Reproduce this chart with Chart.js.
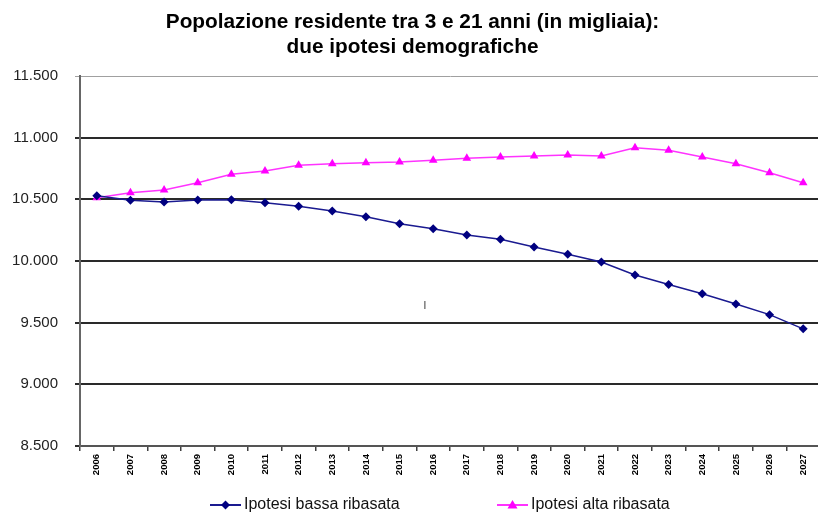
<!DOCTYPE html>
<html>
<head>
<meta charset="utf-8">
<script src="https://cdn.jsdelivr.net/npm/chart.js@4.4.0/dist/chart.umd.min.js"></script>
<style>
html,body{margin:0;padding:0;background:#fff;overflow:hidden;}
#wrap{width:818px;height:514px;overflow:hidden;position:relative;}
#c{display:block;}
</style>
</head>
<body>
<div id="wrap"><canvas id="c" width="825" height="514" style="width:825px;height:514px"></canvas></div>
<script>
const titleLines = ['Popolazione residente tra 3 e 21 anni (in migliaia):', 'due ipotesi demografiche'];
const years = ['2006','2007','2008','2009','2010','2011','2012','2013','2014','2015','2016','2017','2018','2019','2020','2021','2022','2023','2024','2025','2026','2027'];
const seriesNames = ['Ipotesi bassa ribasata', 'Ipotesi alta ribasata'];
const bassa = [10530, 10492, 10478, 10494, 10497, 10473, 10443, 10405, 10359, 10302, 10261, 10211, 10176, 10114, 10054, 9992, 9887, 9810, 9734, 9652, 9565, 9450];
const alta  = [10513, 10554, 10575, 10635, 10703, 10730, 10776, 10789, 10797, 10803, 10817, 10833, 10843, 10851, 10859, 10851, 10919, 10898, 10843, 10789, 10716, 10635];
const yMin = 8500, yMax = 11500, yStep = 500;

function fmt(v){ return String(v).replace(/\B(?=(\d{3})+(?!\d))/g, '.'); }

const legendPlugin = {
  id: 'customLegend',
  afterDraw(chart){
    const ctx = chart.ctx;
    const items = [
      {x: 210, ds: chart.data.datasets[0], shape: 'diamond'},
      {x: 497, ds: chart.data.datasets[1], shape: 'triangle'}
    ];
    const y = 505;
    ctx.save();
    items.forEach(it => {
      ctx.strokeStyle = it.ds.borderColor;
      ctx.lineWidth = 2;
      ctx.beginPath(); ctx.moveTo(it.x, y); ctx.lineTo(it.x + 31, y); ctx.stroke();
      ctx.fillStyle = it.ds.pointBackgroundColor;
      const cx = it.x + 15.5;
      ctx.beginPath();
      if (it.shape === 'diamond') {
        ctx.moveTo(cx, y - 4.5); ctx.lineTo(cx + 4.5, y); ctx.lineTo(cx, y + 4.5); ctx.lineTo(cx - 4.5, y);
      } else {
        ctx.moveTo(cx, y - 5); ctx.lineTo(cx + 5, y + 3.5); ctx.lineTo(cx - 5, y + 3.5);
      }
      ctx.closePath(); ctx.fill();
      ctx.fillStyle = '#111';
      ctx.font = '16px "Liberation Sans", Arial, sans-serif';
      ctx.textBaseline = 'middle';
      ctx.textAlign = 'left';
      ctx.fillText(it.ds.label, it.x + 34, y);
    });
    // stray mark present in the original picture
    ctx.fillStyle = '#333';
    ctx.font = '10px "Liberation Sans", Arial, sans-serif';
    ctx.textAlign = 'center';
    ctx.fillText('I', 425, 306);
    ctx.restore();
  }
};

new Chart(document.getElementById('c'), {
  type: 'line',
  data: {
    labels: years,
    datasets: [
      {label: seriesNames[0], data: bassa, borderColor: '#1a1a90', backgroundColor: '#000080', pointBackgroundColor: '#000080', pointBorderColor: '#000080', pointStyle: 'rectRot', pointRadius: 4.5, pointBorderWidth: 0, borderWidth: 1.5, tension: 0},
      {label: seriesNames[1], data: alta, borderColor: '#ff33ff', backgroundColor: '#ff00ff', pointBackgroundColor: '#ff00ff', pointBorderColor: '#ff00ff', pointStyle: 'triangle', pointRadius: 5, pointBorderWidth: 0, borderWidth: 1.5, tension: 0}
    ]
  },
  options: {
    responsive: false,
    animation: false,
    layout: {padding: {left: 0, right: 0, top: 0, bottom: 0}},
    plugins: {
      legend: {display: false},
      tooltip: {enabled: false},
      title: {
        display: true,
        text: titleLines,
        color: '#000',
        font: {family: '"Liberation Sans", Arial, sans-serif', size: 20.8, weight: 'bold', lineHeight: 25/20.8},
        padding: {top: 9.5, bottom: 16.5}
      }
    },
    scales: {
      x: {
        offset: true,
        grid: {offset: true, drawOnChartArea: false, drawTicks: true, tickLength: 5, color: '#404040', lineWidth: 1.5},
        border: {display: true, color: '#555', width: 2},
        ticks: {autoSkip: false, maxRotation: 90, minRotation: 90, padding: 3, color: '#000', font: {family: '"Liberation Sans", Arial, sans-serif', size: 9.5, weight: 'bold'}},
        afterFit(s){ s.height = 68; }
      },
      y: {
        min: yMin, max: yMax,
        ticks: {stepSize: yStep, padding: 17, color: '#222', font: {family: '"Liberation Sans", Arial, sans-serif', size: 15}, callback: v => fmt(v)},
        grid: {tickLength: 5, color: c => (c.tick && c.tick.value === yMax) ? '#a0a0a0' : '#2a2a2a', lineWidth: c => (c.tick && c.tick.value === yMax) ? 1 : 2},
        border: {display: true, color: '#666', width: 2},
        afterFit(s){ s.width = 80; }
      }
    }
  },
  plugins: [legendPlugin]
});
</script>
</body>
</html>
